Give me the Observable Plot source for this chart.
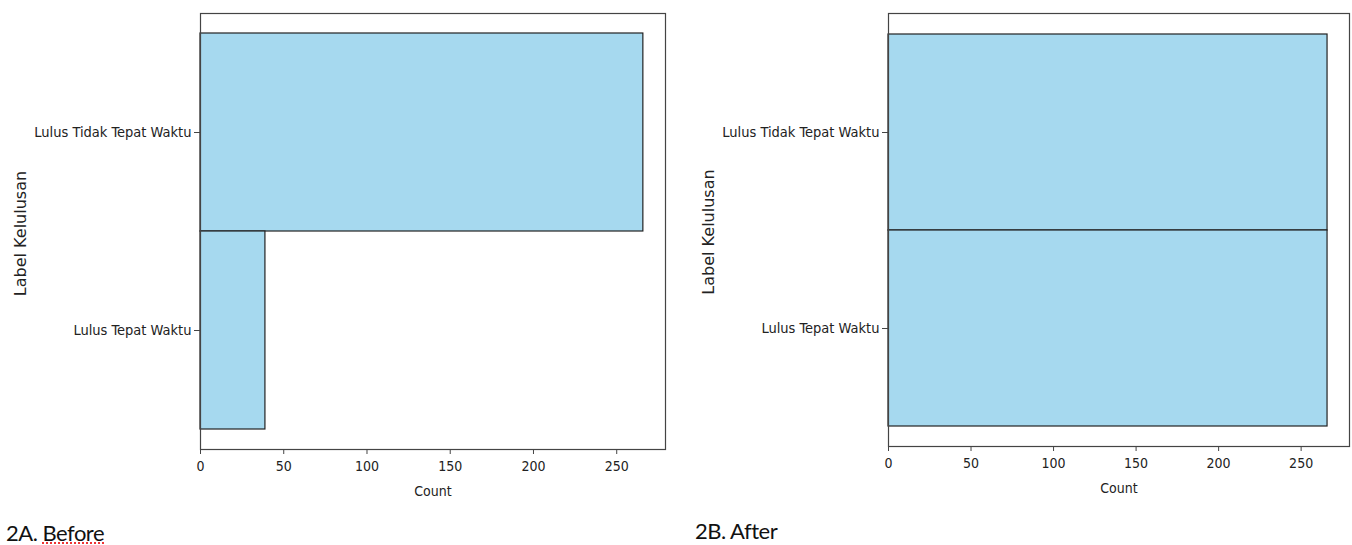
<!DOCTYPE html>
<html>
<head>
<meta charset="utf-8">
<script src="https://cdn.jsdelivr.net/npm/d3@7"></script>
<script src="https://cdn.jsdelivr.net/npm/@observablehq/plot@0.6"></script>
<style>
  html, body { margin: 0; padding: 0; background: #fff; width: 1352px; height: 545px; overflow: hidden; }
  .panel { position: absolute; top: 0; }
  .caption { position: absolute; font-family: Lato, "Open Sans", sans-serif; font-size: 22px; color: #111; letter-spacing: -0.5px; line-height: 1; }
  .squiggle { text-decoration: underline dotted #e33; text-underline-offset: 1px; }
  svg text { font-family: "DejaVu Sans", sans-serif; font-stretch: condensed; }
  svg .ylab text { font-stretch: normal !important; }
</style>
</head>
<body>
<div id="left" class="panel" style="left:0px"></div>
<div id="right" class="panel" style="left:680px"></div>
<div class="caption" style="left:6px; top:522px">2A. <span class="squiggle">Before</span></div>
<div class="caption" style="left:695px; top:520px">2B. After</div>
<script>
const categories = ["Lulus Tidak Tepat Waktu", "Lulus Tepat Waktu"];
const beforeCounts = [266, 39];
const afterCounts = [266, 266];
const xTicks = [0, 50, 100, 150, 200, 250];
const xMax = 279.3;
const xLabel = "Count";
const yLabel = "Label Kelulusan";

function panel(counts, opts) {
  const data = categories.map((c, i) => ({label: c, count: counts[i]}));
  return Plot.plot({
    width: opts.width,
    height: 510,
    marginLeft: opts.marginLeft,
    marginRight: opts.marginRight,
    marginTop: 13,
    marginBottom: opts.marginBottom,
    style: {fontSize: "14px", color: "#222", background: "white"},
    x: {domain: [0, xMax]},
    y: {domain: categories, paddingInner: 0, paddingOuter: 0.101},
    marks: [
      Plot.barX(data, {x: "count", y: "label", fill: "#a6d9ef", stroke: "#222", strokeWidth: 1.2, inset: 0}),
      Plot.frame({stroke: "#444", strokeWidth: 1.2}),
      Plot.axisX({ticks: xTicks, tickSize: 5, tickPadding: 7, label: xLabel, labelAnchor: "center", labelArrow: "none", labelOffset: 46, stroke: "#444", fontSize: 14}),
      Plot.axisY({tickSize: 6, tickPadding: 3, label: null, stroke: "#444", fontSize: 14.5}),
      Plot.text([yLabel], {text: d => d, frameAnchor: "left", textAnchor: "middle", dx: -180, dy: 2, rotate: -90, fontSize: 16, fill: "#222", className: "ylab"})
    ]
  });
}

document.getElementById("left").append(panel(beforeCounts, {width: 676, marginLeft: 200, marginRight: 11, marginBottom: 61}));
document.getElementById("right").append(panel(afterCounts, {width: 672, marginLeft: 208, marginRight: 3, marginBottom: 64}));
</script>
</body>
</html>
